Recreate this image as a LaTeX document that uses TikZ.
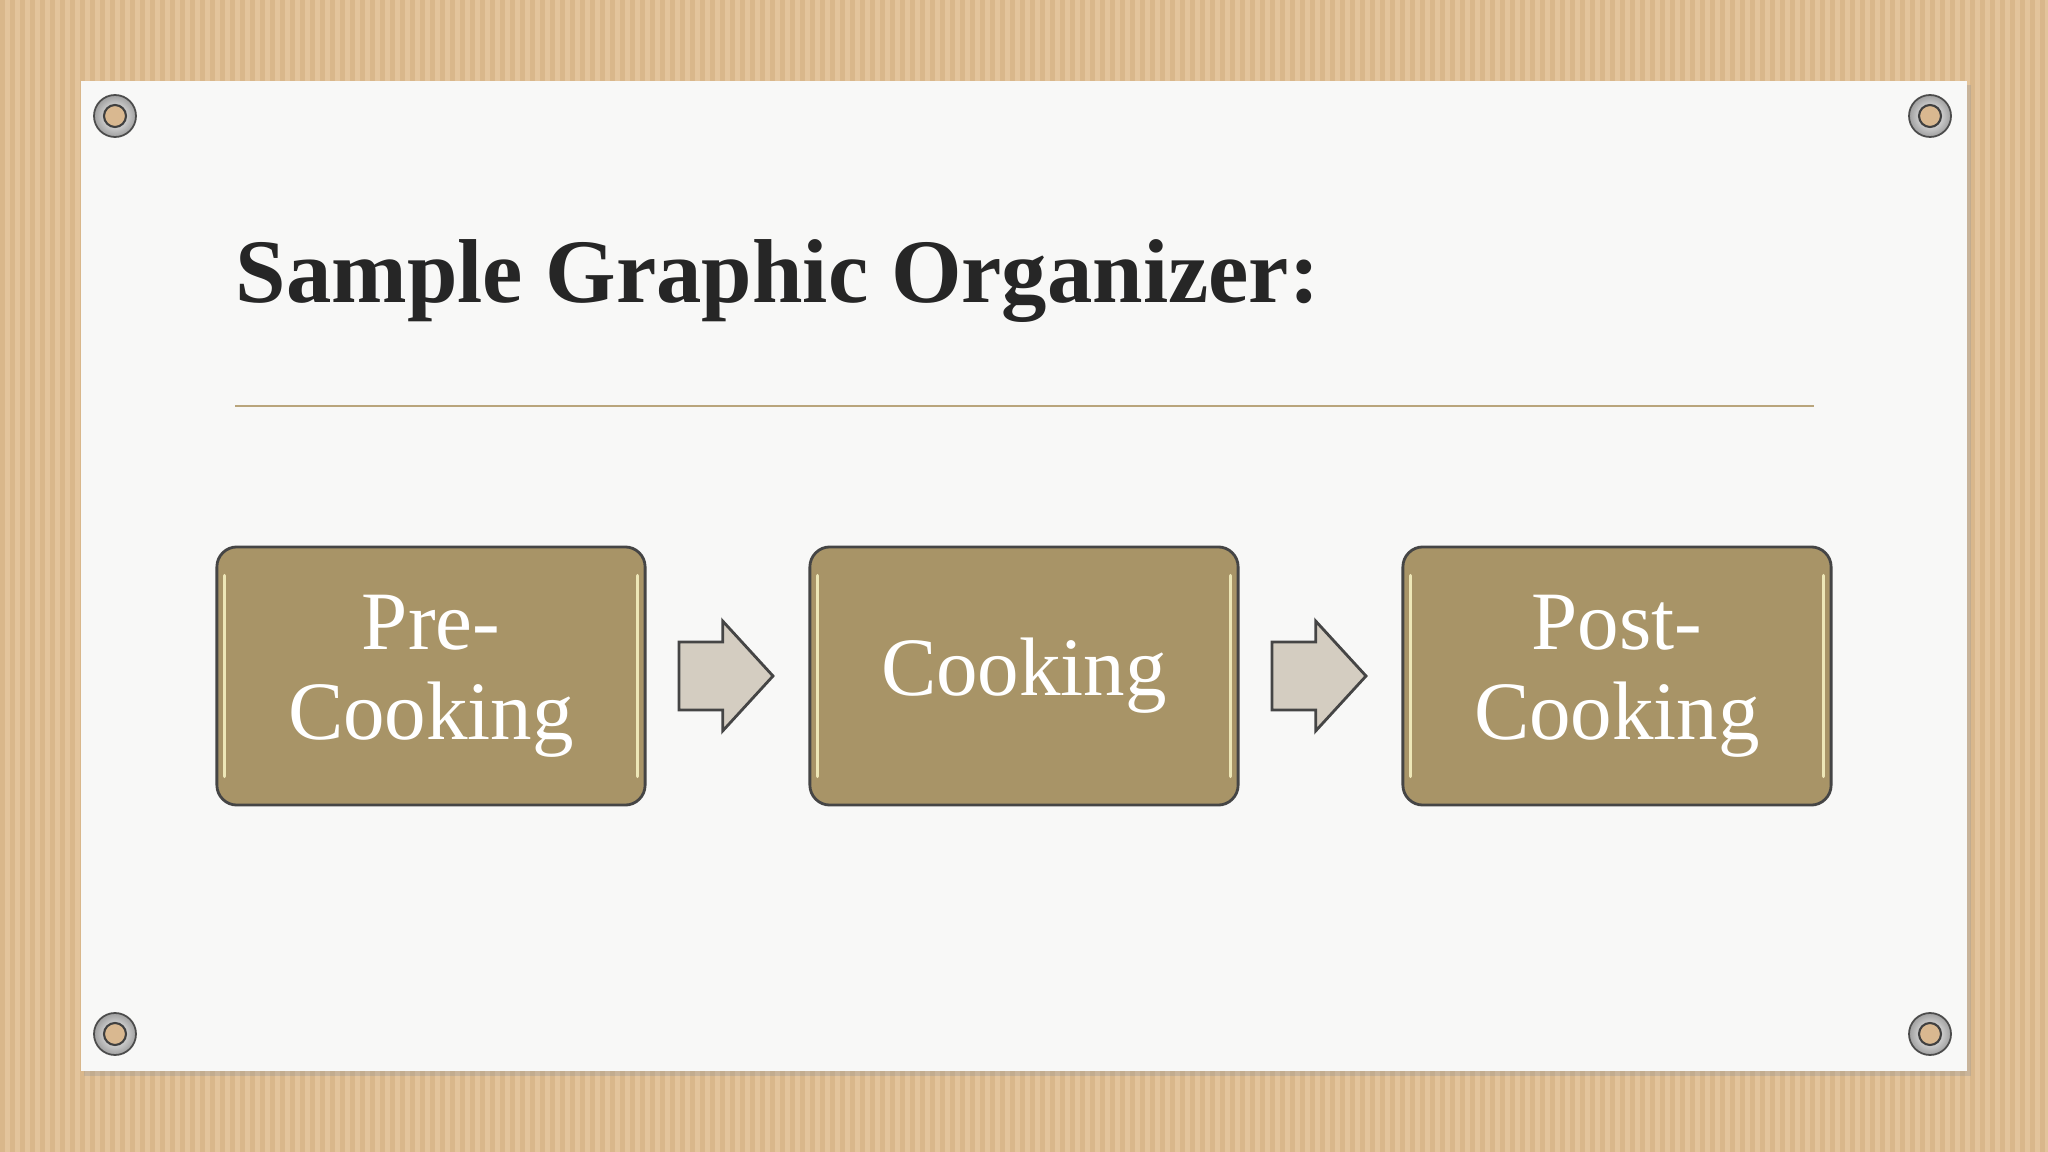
\documentclass[tikz,border=0pt]{standalone}
\usepackage{fontspec}
\setmainfont{Liberation Serif}
\usetikzlibrary{positioning,shapes.arrows}
\definecolor{board}{HTML}{E3C49C}
\definecolor{boarddark}{HTML}{D6B285}
\definecolor{hole}{HTML}{D9B890}
\definecolor{paper}{HTML}{F8F8F7}
\definecolor{gold}{HTML}{A89467}
\definecolor{rulegold}{HTML}{B9A57C}
\definecolor{edge}{HTML}{454545}
\definecolor{arrowgray}{HTML}{D4CDC1}
\begin{document}
\begin{tikzpicture}[x=0.01cm, y=-0.01cm,
    phase/.style={draw=edge, line width=0.8pt, fill=gold, rounded corners=0.2cm,
        minimum width=4.28cm, minimum height=2.58cm, text=white, align=center,
        font=\fontsize{23.6}{25.6}\selectfont},
    flow/.style={single arrow, draw=edge, line width=0.8pt, fill=arrowgray,
        minimum height=0.94cm, single arrow head extend=0.21cm,
        single arrow tip angle=95, inner xsep=0pt, inner ysep=0.325cm},
    shine/.style={draw=yellow!20!white, line width=0.9pt, line cap=round, opacity=0.8},
    grommet/.style={draw=gray!60!black, line width=0.5pt, inner color=white, outer color=gray!75}]
    \useasboundingbox (0,0) rectangle (2048,1152);
    % cardboard
    \fill[board] (0,0) rectangle (2048,1152);
    \foreach \x in {0,10,...,2040}
        \fill[boarddark, opacity=0.7] (\x,0) rectangle ++(5,1152);
    % paper sheet with a soft shadow
    \fill[black!40, opacity=0.35] (84,85) rectangle (1971,1076);
    \fill[paper] (81,81) rectangle (1967,1071);
    \foreach \gx/\gy in {115/116, 1930/116, 115/1034, 1930/1034}{
        \shade[grommet] (\gx,\gy) circle (21);
        \fill[hole] (\gx,\gy) circle (11);
        \draw[gray!50!black, line width=0.6pt] (\gx,\gy) circle (11);
    }
    \node[anchor=base west, inner sep=0pt, text=black!85,
        font=\fontsize{25.8}{30}\selectfont\bfseries] (title) at (235,303) {Sample Graphic Organizer:};
    \draw[rulegold, line width=0.7pt] (235,406) -- (1814,406);
    % the three steps
    \node[phase] (pre) at (431,676) {Pre-\\Cooking};
    \node[phase] (cook) at (1024,676) {Cooking};
    \node[phase] (post) at (1617,676) {Post-\\Cooking};
    \node[flow, right=0.31cm of pre] (a1) {};
    \node[flow, right=0.31cm of cook] (a2) {};
    \foreach \n in {pre,cook,post}{
        \draw[shine] ([shift={(9,30)}]\n.north west) -- ([shift={(9,-30)}]\n.south west);
        \draw[shine] ([shift={(-9,30)}]\n.north east) -- ([shift={(-9,-30)}]\n.south east);
    }
\end{tikzpicture}
\end{document}
